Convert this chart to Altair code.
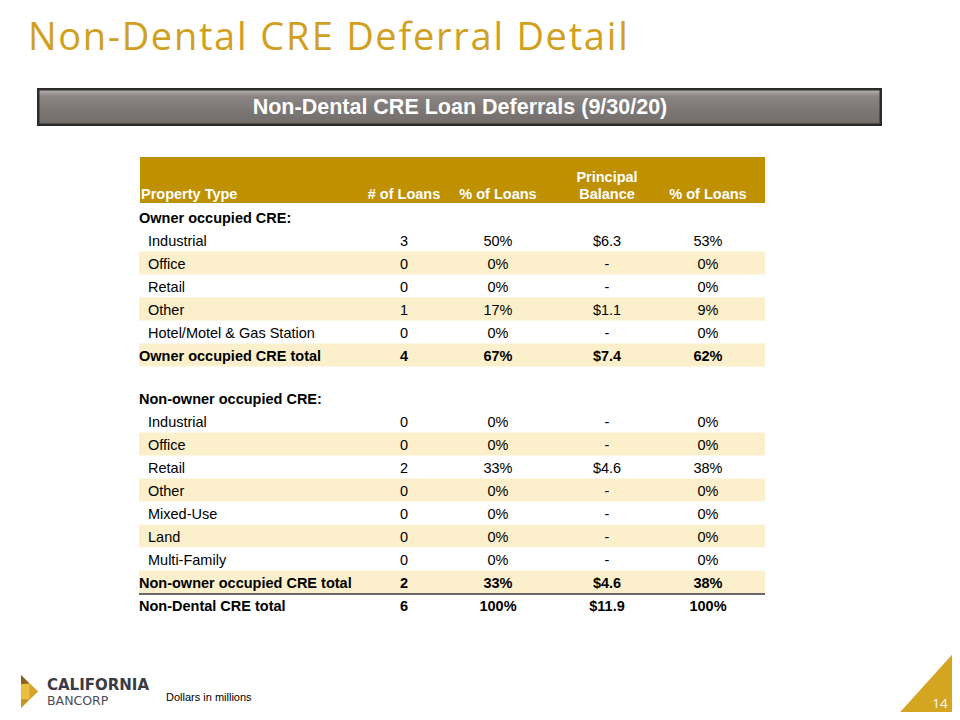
import altair as alt
import pandas as pd

# ---------------- data ----------------
title_text = "Non-Dental CRE Deferral Detail"
banner_text = "Non-Dental CRE Loan Deferrals (9/30/20)"
footnote = "Dollars in millions"
page_number = "14"
logo_line1 = "CALIFORNIA"
logo_line2 = "BANCORP"

header_labels = ["Property Type", "# of Loans", "% of Loans", "Principal", "Balance", "% of Loans"]

owner_section = "Owner occupied CRE:"
owner_types = ["Industrial", "Office", "Retail", "Other", "Hotel/Motel & Gas Station"]
owner_loans = [3, 0, 0, 1, 0]
owner_pct_loans = ["50%", "0%", "0%", "17%", "0%"]
owner_balance = ["$6.3", "-", "-", "$1.1", "-"]
owner_pct_balance = ["53%", "0%", "0%", "9%", "0%"]
owner_total = ["Owner occupied CRE total", 4, "67%", "$7.4", "62%"]

nonowner_section = "Non-owner occupied CRE:"
nonowner_types = ["Industrial", "Office", "Retail", "Other", "Mixed-Use", "Land", "Multi-Family"]
nonowner_loans = [0, 0, 2, 0, 0, 0, 0]
nonowner_pct_loans = ["0%", "0%", "33%", "0%", "0%", "0%", "0%"]
nonowner_balance = ["-", "-", "$4.6", "-", "-", "-", "-"]
nonowner_pct_balance = ["0%", "0%", "38%", "0%", "0%", "0%", "0%"]
nonowner_total = ["Non-owner occupied CRE total", 2, "33%", "$4.6", "38%"]
grand_total = ["Non-Dental CRE total", 6, "100%", "$11.9", "100%"]

# ---------------- layout (page pixels) ----------------
GOLD_TITLE = "#D1A01E"
GOLD_HEAD = "#BF9000"
STRIPE = "#FCF0CC"
COL_X = [404, 498, 607, 708]
TABLE_L, TABLE_R = 139, 765
PITCH = 23
BLOCK1_TOP, BLOCK2_TOP = 218, 399

# approximate Open Sans advance widths (em) used to letter-space the title
OPEN_SANS_W = {"N": .748, "o": .602, "n": .613, "-": .322, "D": .717, "e": .561,
               "t": .352, "a": .556, "l": .258, " ": .26, "C": .633, "R": .635,
               "E": .556, "f": .336, "r": .408, "i": .258}

xs = alt.Scale(domain=[8, 952], nice=False, zero=False)
ys = alt.Scale(domain=[8, 712], nice=False, zero=False, reverse=True)


def X(f="x"):
    return alt.X(f"{f}:Q", scale=xs, axis=None)


def Y(f="y"):
    return alt.Y(f"{f}:Q", scale=ys, axis=None)


def spaced(text, x0, x1, size, widths):
    natural = sum(widths.get(ch, .55) for ch in text) * size
    gap = (x1 - x0 - natural) / (len(text) - 1)
    out, x = [], x0
    for ch in text:
        out.append(dict(x=x, t=ch))
        x += widths.get(ch, .55) * size + gap
    return out


def build_block(section, types, loans, pl, bal, pb, totals, top):
    rows = [dict(label=section, kind="section", vals=None)]
    for i in range(len(types)):
        rows.append(dict(label=types[i], kind="item",
                         vals=[str(loans[i]), pl[i], bal[i], pb[i]]))
    for t in totals:
        rows.append(dict(label=t[0], kind="total",
                         vals=[str(t[1]), t[2], t[3], t[4]]))
    for i, r in enumerate(rows):
        r["c"] = top + PITCH * i
        r["stripe"] = (i % 2 == 0 and i > 0)
    return rows


rows = build_block(owner_section, owner_types, owner_loans, owner_pct_loans,
                   owner_balance, owner_pct_balance, [owner_total], BLOCK1_TOP)
rows += build_block(nonowner_section, nonowner_types, nonowner_loans, nonowner_pct_loans,
                    nonowner_balance, nonowner_pct_balance, [nonowner_total, grand_total],
                    BLOCK2_TOP)

stripe_df = pd.DataFrame([dict(x=TABLE_L, x2=TABLE_R, y=r["c"] - 12.5, y2=r["c"] + 10.5)
                          for r in rows if r["stripe"]])
label_reg = pd.DataFrame([dict(x=148, y=r["c"] + 5, t=r["label"]) for r in rows if r["kind"] == "item"])
label_bold = pd.DataFrame([dict(x=139, y=r["c"] + 5, t=r["label"]) for r in rows if r["kind"] != "item"])
val_reg = pd.DataFrame([dict(x=COL_X[j], y=r["c"] + 5, t=r["vals"][j])
                        for r in rows if r["kind"] == "item" for j in range(4)])
val_bold = pd.DataFrame([dict(x=COL_X[j], y=r["c"] + 5, t=r["vals"][j])
                         for r in rows if r["kind"] == "total" for j in range(4)])
nonowner_total_row = [r for r in rows if r["label"] == nonowner_total[0]][0]
line_df = pd.DataFrame([dict(x=TABLE_L, x2=TABLE_R, y=nonowner_total_row["c"] + 11)])

header_band = pd.DataFrame([dict(x=TABLE_L + 1, x2=TABLE_R, y=157, y2=203)])
header_left = pd.DataFrame([dict(x=141, y=199, t=header_labels[0])])
header_center = pd.DataFrame([
    dict(x=COL_X[0], y=199, t=header_labels[1]),
    dict(x=COL_X[1], y=199, t=header_labels[2]),
    dict(x=COL_X[2], y=182, t=header_labels[3]),
    dict(x=COL_X[2], y=199, t=header_labels[4]),
    dict(x=COL_X[3], y=199, t=header_labels[5]),
])

title_df = pd.DataFrame([dict(y=50, **c) for c in spaced(title_text, 28, 628, 38, OPEN_SANS_W)])

# ---------------- layers ----------------
layers = []

# title (letter-spaced, one glyph per text mark)
layers.append(alt.Chart(title_df).mark_text(
    align="left", baseline="alphabetic", font="Open Sans", fontSize=38, color=GOLD_TITLE
).encode(x=X(), y=Y(), text="t:N"))

# banner
layers.append(alt.Chart(pd.DataFrame([dict(x=37, x2=882, y=88, y2=126)])).mark_rect(
    color="#2c2b2b").encode(x=X(), x2="x2:Q", y=Y(), y2="y2:Q"))
layers.append(alt.Chart(pd.DataFrame([dict(x=39.5, x2=879.5, y=90.5, y2=123.5)])).mark_rect(
    color=alt.LinearGradient(gradient="linear", x1=0, x2=0, y1=0, y2=1,
                             stops=[alt.GradientStop(color="#b3aeac", offset=0),
                                    alt.GradientStop(color="#8a8483", offset=0.18),
                                    alt.GradientStop(color="#7c7675", offset=0.6),
                                    alt.GradientStop(color="#736d6c", offset=1)])
).encode(x=X(), x2="x2:Q", y=Y(), y2="y2:Q"))
layers.append(alt.Chart(pd.DataFrame([dict(x=460, y=114, t=banner_text)])).mark_text(
    align="center", baseline="alphabetic", font="Liberation Sans", fontSize=21.5,
    fontWeight="bold", color="white"
).encode(x=X(), y=Y(), text="t:N"))

# header band
layers.append(alt.Chart(header_band).mark_rect(color=GOLD_HEAD).encode(
    x=X(), x2="x2:Q", y=Y(), y2="y2:Q"))
hdr_style = dict(baseline="alphabetic", font="Liberation Sans", fontSize=14.5,
                 fontWeight="bold", color="white")
layers.append(alt.Chart(header_left).mark_text(align="left", **hdr_style).encode(
    x=X(), y=Y(), text="t:N"))
layers.append(alt.Chart(header_center).mark_text(align="center", **hdr_style).encode(
    x=X(), y=Y(), text="t:N"))

# stripes and rule
layers.append(alt.Chart(stripe_df).mark_rect(color=STRIPE).encode(
    x=X(), x2="x2:Q", y=Y(), y2="y2:Q"))
layers.append(alt.Chart(line_df).mark_rule(color="#3a3a3a", strokeWidth=1.3).encode(
    x=X(), x2="x2:Q", y=Y()))

body = dict(baseline="alphabetic", font="Liberation Sans", fontSize=14.5, color="black")
layers.append(alt.Chart(label_reg).mark_text(align="left", **body).encode(
    x=X(), y=Y(), text="t:N"))
layers.append(alt.Chart(label_bold).mark_text(align="left", fontWeight="bold", **body).encode(
    x=X(), y=Y(), text="t:N"))
layers.append(alt.Chart(val_reg).mark_text(align="center", **body).encode(
    x=X(), y=Y(), text="t:N"))
layers.append(alt.Chart(val_bold).mark_text(align="center", fontWeight="bold", **body).encode(
    x=X(), y=Y(), text="t:N"))

# logo icon (facets)
logo_full = pd.DataFrame([dict(x=21, y=675, y2=708), dict(x=38, y=691.5, y2=691.5)])
logo_top = pd.DataFrame([dict(x=21, y=675, y2=684), dict(x=29.5, y=683.5, y2=683.5)])
logo_bot = pd.DataFrame([dict(x=21, y=699, y2=708), dict(x=29.5, y=699.5, y2=699.5)])
logo_right = pd.DataFrame([dict(x=29.5, y=683.5, y2=699.5), dict(x=38, y=691.5, y2=691.5)])
layers.append(alt.Chart(logo_full).mark_area(color="#E8BE3C", opacity=1).encode(
    x=X(), y=Y(), y2="y2:Q"))
layers.append(alt.Chart(logo_right).mark_area(color="#D4A22A", opacity=1).encode(
    x=X(), y=Y(), y2="y2:Q"))
layers.append(alt.Chart(logo_top).mark_area(color="#8E5F22", opacity=1).encode(
    x=X(), y=Y(), y2="y2:Q"))
layers.append(alt.Chart(logo_bot).mark_area(color="#C99524", opacity=1).encode(
    x=X(), y=Y(), y2="y2:Q"))
layers.append(alt.Chart(pd.DataFrame([dict(x=47, y=690, t=logo_line1)])).mark_text(
    align="left", baseline="alphabetic", font="DejaVu Sans", fontSize=15, fontWeight="bold",
    color="#3b3b46").encode(x=X(), y=Y(), text="t:N"))
layers.append(alt.Chart(pd.DataFrame([dict(x=47, y=705, t=logo_line2)])).mark_text(
    align="left", baseline="alphabetic", font="DejaVu Sans", fontSize=12.5,
    color="#4b4b55").encode(x=X(), y=Y(), text="t:N"))
layers.append(alt.Chart(pd.DataFrame([dict(x=166, y=701, t=footnote)])).mark_text(
    align="left", baseline="alphabetic", font="Liberation Sans", fontSize=11,
    color="black").encode(x=X(), y=Y(), text="t:N"))

# page corner triangle
tri = pd.DataFrame([dict(x=893, y=720, y2=720), dict(x=960, y=646, y2=720)])
layers.append(alt.Chart(tri).mark_area(color="#D4A521", opacity=1, clip=True).encode(
    x=X(), y=Y(), y2="y2:Q"))
layers.append(alt.Chart(pd.DataFrame([dict(x=940, y=708, t=page_number)])).mark_text(
    align="center", baseline="alphabetic", font="Open Sans", fontSize=13.5,
    color="white").encode(x=X(), y=Y(), text="t:N"))

chart = alt.layer(*layers).properties(
    width=944, height=704, padding=0, autosize="none", background="white"
).configure_view(stroke=None)

chart.save("out.html", embed_options={"renderer": "svg", "actions": False})
